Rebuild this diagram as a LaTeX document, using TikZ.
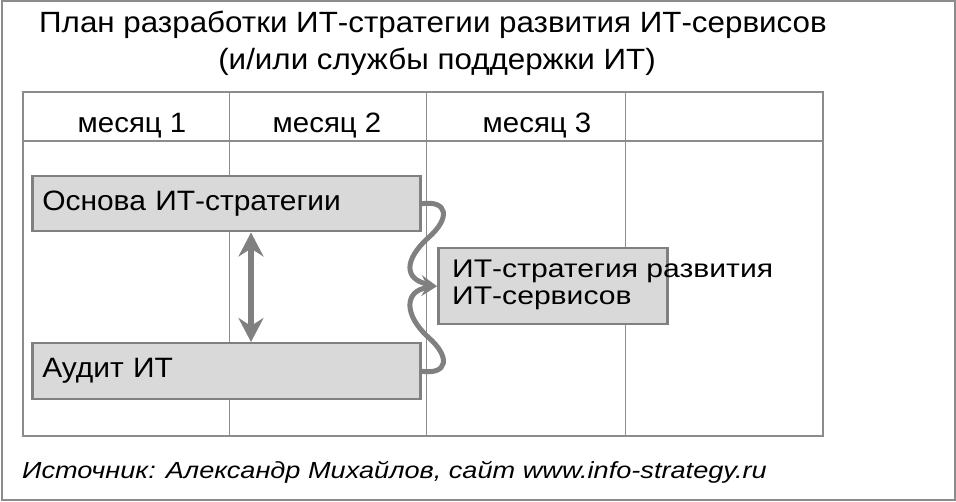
\documentclass[tikz,border=0pt]{standalone}
\usepackage{fontspec}
\setmainfont{Liberation Sans}
\newfontfamily\ttlfont[FakeStretch=1.07]{Liberation Sans}
\newfontfamily\hdrfont[FakeStretch=1.05]{Liberation Sans}
\newfontfamily\boxfont[FakeStretch=1.07]{Liberation Sans}
\newfontfamily\boxthreefont[FakeStretch=1.18]{Liberation Sans}
\newfontfamily\srcfont[FakeStretch=1.165]{Liberation Sans}
\usetikzlibrary{arrows.meta}
\definecolor{lg}{HTML}{808080}
\definecolor{tg}{HTML}{8C8C8C}
\definecolor{bf}{HTML}{D9D9D9}
\begin{document}
\begin{tikzpicture}[x=1pt,y=-1pt,
  outerframe/.style={draw=tg, line width=2pt},
  tableborder/.style={draw=tg, line width=2pt},
  colline/.style={draw=tg, line width=1pt},
  boxn/.style={draw=lg, line width=2.5pt, fill=bf, anchor=north west, inner sep=0pt},
  boxtext/.style={font=\boxfont\fontsize{28}{30}\selectfont, align=left, text width=368pt, inner xsep=10pt},
  hdr/.style={anchor=base, font=\hdrfont\fontsize{28}{30}\selectfont, inner sep=0pt},
  ttl/.style={anchor=base, font=\ttlfont\fontsize{29.3}{30}\selectfont, inner sep=0pt},
  flow/.style={draw=lg, line width=5pt, line cap=round, -{Stealth[length=17pt,width=15pt,inset=6pt]}},
  dbl/.style={draw=lg, line width=6pt, {Stealth[length=24pt,width=25pt,inset=8pt]}-{Stealth[length=24pt,width=25pt,inset=8pt]}}
]
\useasboundingbox (0,0) rectangle (956,502);
\draw[outerframe] (2,1) rectangle (955,500);

% title
\node[ttl] (t1) at (433,33) {План разработки ИТ-стратегии развития ИТ-сервисов};
\node[ttl] (t2) at (437,70) {(и/или службы поддержки ИТ)};

% table
\draw[colline] (229,92) -- (229,436);
\draw[colline] (426,92) -- (426,436);
\draw[colline] (625,92) -- (625,436);
\draw[tableborder] (23,141) -- (823,141);
\draw[tableborder] (23,92) rectangle (823,436);

\node[hdr] (m1) at (132,133) {месяц 1};
\node[hdr] (m2) at (327,133) {месяц 2};
\node[hdr] (m3) at (537,133) {месяц 3};

% boxes
\node[boxn, boxtext, minimum height=55pt] (b1) at (31,175) {Основа ИТ-стратегии};
\node[boxn, boxtext, minimum height=56pt] (b2) at (31,342) {Аудит ИТ};
\node[boxn, minimum width=229pt, minimum height=76pt] (b3) at (437,247) {};
\node[anchor=north west, align=left, inner sep=0pt, font=\boxthreefont\fontsize{25.5}{27}\selectfont] (t3) at (452,259.5) {ИТ-стратегия развития\\ИТ-сервисов};

% double arrow
\coordinate (da) at (251,0);
\draw[dbl] (b1.south -| da) -- (b2.north -| da);

% curved arrows
\draw[flow] (b1.east) .. controls (448,200) and (451,218) .. (428,238)
  .. controls (404,260) and (404,279) .. (b3.west);
\draw[flow] (b2.east) .. controls (448,375) and (451,357) .. (428,337)
  .. controls (404,315) and (404,291) .. (b3.west);

% footer
\node[anchor=base west, inner sep=0pt, font=\srcfont\itshape\fontsize{23.3}{26}\selectfont] (src) at (22,478) {Источник: Александр Михайлов, сайт www.info-strategy.ru};
\end{tikzpicture}
\end{document}
